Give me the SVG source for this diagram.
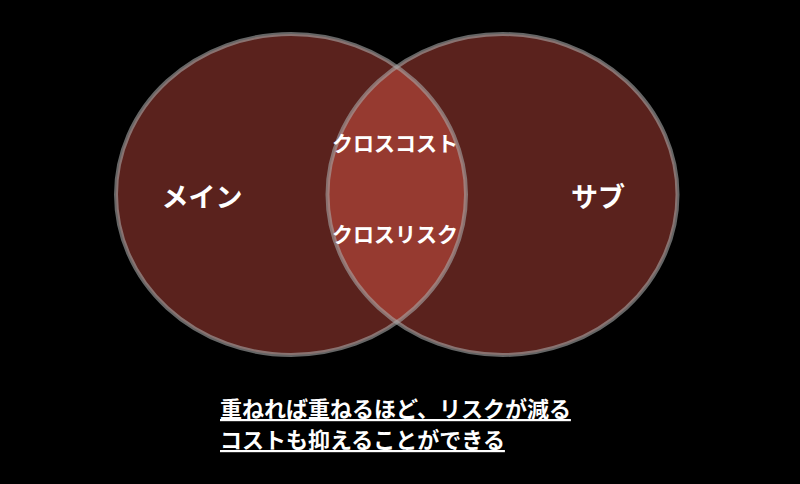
<svg xmlns="http://www.w3.org/2000/svg" width="800" height="484" viewBox="0 0 800 484">
<style>
text{font-family:"Noto Sans CJK JP","Noto Sans",sans-serif;font-weight:bold;fill:#ffffff}
.set{fill:#5a221d}
.ring{fill:none;stroke:#a8a8a8;stroke-opacity:0.6;stroke-width:4}
.lens{fill:#963a30}
.big{font-size:27px}
.mid{font-size:21px}
.note{font-size:22px;text-decoration:underline}
</style>
<rect width="800" height="484" fill="#000000"/>
<defs>
<clipPath id="clipL"><ellipse cx="291" cy="194.5" rx="175" ry="160.5"/></clipPath>
</defs>
<g id="set-main">
<ellipse class="set" cx="291" cy="194.5" rx="175" ry="160.5"/>
</g>
<g id="set-sub">
<ellipse class="set" cx="502.5" cy="194.5" rx="175" ry="160.5"/>
</g>
<g id="overlap">
<ellipse class="lens" cx="502.5" cy="194.5" rx="175" ry="160.5" clip-path="url(#clipL)"/>
</g>
<g id="outlines">
<ellipse class="ring" cx="291" cy="194.5" rx="175" ry="160.5"/>
<ellipse class="ring" cx="502.5" cy="194.5" rx="175" ry="160.5"/>
</g>
<g id="label-main"><text class="big" x="202" y="207" text-anchor="middle">メイン</text></g>
<g id="label-sub"><text class="big" x="598" y="207" text-anchor="middle">サブ</text></g>
<g id="label-overlap">
<text class="mid" x="395" y="151" text-anchor="middle">クロスコスト</text>
<text class="mid" x="395" y="242" text-anchor="middle">クロスリスク</text>
</g>
<g id="note">
<text class="note" x="220" y="417">重ねれば重ねるほど、リスクが減る</text>
<text class="note" x="220" y="448">コストも抑えることができる</text>
</g>
</svg>
